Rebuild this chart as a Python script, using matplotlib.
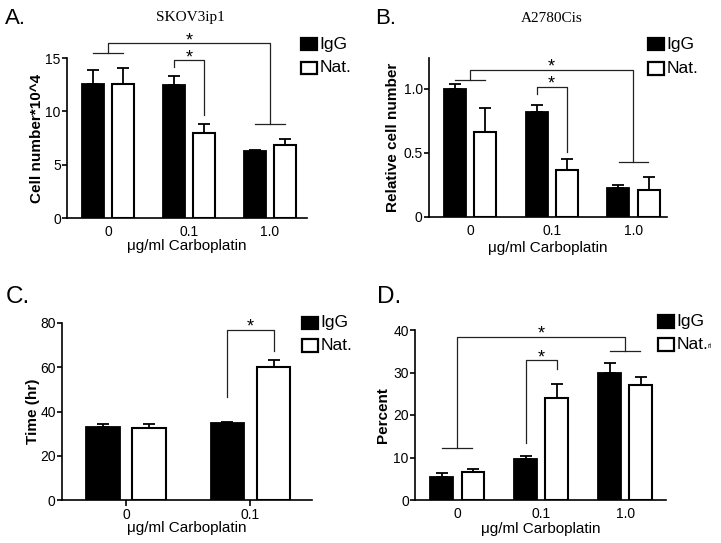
import matplotlib
matplotlib.use("Agg")
import matplotlib.pyplot as plt
from matplotlib.patches import Rectangle
import numpy as np

plt.rcParams["font.family"] = ["Liberation Sans", "DejaVu Sans"]

W, H = 721, 543

# 數據
doses_3 = ["0", "0.1", "1.0"]
doses_2 = ["0", "0.1"]
group_names = ["IgG", "Nat."]

# A. SKOV3ip1
a_igg = [12.6, 12.45, 6.3]
a_igg_err = [1.25, 0.85, 0.08]
a_nat = [12.6, 7.95, 6.8]
a_nat_err = [1.45, 0.85, 0.65]

# B. A2780Cis
b_igg = [1.0, 0.82, 0.23]
b_igg_err = [0.04, 0.05, 0.02]
b_nat = [0.66, 0.37, 0.21]
b_nat_err = [0.19, 0.08, 0.10]

# C.
c_igg = [33.2, 34.7]
c_igg_err = [1.1, 0.5]
c_nat = [32.5, 60.1]
c_nat_err = [1.8, 3.0]

# D.
d_igg = [5.3, 9.6, 29.8]
d_igg_err = [1.1, 0.8, 2.5]
d_nat = [6.6, 23.9, 27.1]
d_nat_err = [0.6, 3.4, 1.9]

# 顯著性標記: (top, left_end, right_end)
a_group_sig = (16.4, 15.47, 8.8)
a_pair_sig = (14.78, 14.16, 9.65)
b_group_sig = (1.15, 1.07, 0.43)
b_pair_sig = (1.016, 0.96, 0.51)
c_pair_sig = (77, 46.5, 67.2)
d_group_sig = (38.4, 12.2, 35.1)
d_pair_sig = (32.9, 13.3, 30.8)

BW = 0.27
OFF = 0.185
TICK_FS = 10
LABEL_FS = 11

fig = plt.figure(figsize=(W / 100, H / 100), dpi=100)


def make_axes(l, t, r, b):
    return fig.add_axes([l / W, 1 - b / H, (r - l) / W, (b - t) / H])


def draw_bars(ax, labels, igg, igg_err, nat, nat_err):
    x = np.arange(len(labels))
    ax.bar(x - OFF, igg, BW, color="black", edgecolor="black", linewidth=1.3, zorder=2)
    ax.bar(x + OFF, nat, BW, color="white", edgecolor="black", linewidth=1.5, zorder=2)
    ax.errorbar(x - OFF, igg, yerr=[np.zeros(len(igg)), igg_err], fmt="none",
                ecolor="black", elinewidth=1.3, capsize=4, capthick=1.3, zorder=3)
    ax.errorbar(x + OFF, nat, yerr=[np.zeros(len(nat)), nat_err], fmt="none",
                ecolor="black", elinewidth=1.3, capsize=4, capthick=1.3, zorder=3)
    ax.set_xticks(x)
    ax.set_xticklabels(labels)
    for s in ["top", "right"]:
        ax.spines[s].set_visible(False)
    for s in ["left", "bottom"]:
        ax.spines[s].set_linewidth(1.2)
    ax.tick_params(axis="y", direction="out", length=3.5, width=1.2,
                   labelsize=TICK_FS, pad=1)


def star(ax, x, y):
    ax.annotate("*", (x, y), xytext=(0, -1.5), textcoords="offset points",
                ha="center", va="baseline", fontsize=13, annotation_clip=False)


def group_bracket(ax, g1, g2, sig):
    top, yl, yr = sig
    kw = dict(color="#222222", lw=0.9, clip_on=False)
    ax.plot([g1, g1, g2, g2], [yl, top, top, yr], **kw)
    ax.plot([g1 - 0.18, g1 + 0.18], [yl, yl], **kw)
    ax.plot([g2 - 0.18, g2 + 0.18], [yr, yr], **kw)
    star(ax, (g1 + g2) / 2, top)


def pair_bracket(ax, g, sig):
    top, yl, yr = sig
    ax.plot([g - OFF, g - OFF, g + OFF, g + OFF], [yl, top, top, yr],
            color="#222222", lw=0.9, clip_on=False)
    star(ax, g, top)


def legend(x, y1, y2, extra=None):
    for y, fc, lab in [(y1, "black", group_names[0]), (y2, "white", group_names[1])]:
        fig.add_artist(Rectangle((x / W, 1 - (y + 12.5) / H), 16 / W, 12.5 / H,
                                 transform=fig.transFigure, facecolor=fc,
                                 edgecolor="black", linewidth=1.6))
        fig.text((x + 18.5) / W, 1 - (y + 6.5) / H, lab, va="center", ha="left", fontsize=12.5)
    if extra:
        fig.text((x + 50) / W, 1 - (y2 + 9) / H, extra, va="center", ha="left", fontsize=5)


def finish(ax, ylab, ylab_x, xlab_y, ylab_fs=LABEL_FS):
    ax.set_ylabel(ylab, fontsize=ylab_fs, fontweight="bold")
    ax.yaxis.set_label_coords(ylab_x, 0.5)
    ax.set_xlabel("μg/ml Carboplatin", fontsize=LABEL_FS)
    ax.xaxis.set_label_coords(0.5, xlab_y)


# A
axA = make_axes(67, 58, 307, 218)
draw_bars(axA, doses_3, a_igg, a_igg_err, a_nat, a_nat_err)
axA.set_ylim(0, 15)
axA.set_yticks([0, 5, 10, 15])
axA.set_xlim(-0.506, 2.457)
axA.tick_params(axis="x", length=0, labelsize=TICK_FS, pad=5)
finish(axA, "Cell number*10^4", -0.094, -0.13)
group_bracket(axA, 0, 2, a_group_sig)
pair_bracket(axA, 1, a_pair_sig)

# B
axB = make_axes(429, 58, 667, 217)
draw_bars(axB, doses_3, b_igg, b_igg_err, b_nat, b_nat_err)
axB.set_ylim(0, 1.24)
axB.set_yticks([0, 0.5, 1.0])
axB.set_yticklabels(["0", "0.5", "1.0"])
axB.set_xlim(-0.50, 2.41)
axB.tick_params(axis="x", length=0, labelsize=TICK_FS, pad=5)
finish(axB, "Relative cell number", -0.12, -0.15)
group_bracket(axB, 0, 2, b_group_sig)
pair_bracket(axB, 1, b_pair_sig)

# C
axC = make_axes(62, 323, 312, 500)
draw_bars(axC, doses_2, c_igg, c_igg_err, c_nat, c_nat_err)
axC.set_ylim(0, 80)
axC.set_yticks([0, 20, 40, 60, 80])
axC.set_xlim(-0.514, 1.494)
axC.tick_params(axis="x", length=4, width=1.2, labelsize=TICK_FS, pad=1.5)
finish(axC, "Time (hr)", -0.09, -0.12)
pair_bracket(axC, 1, c_pair_sig)

# D
axD = make_axes(415, 330, 666, 500)
draw_bars(axD, doses_3, d_igg, d_igg_err, d_nat, d_nat_err)
axD.set_ylim(0, 40)
axD.set_yticks([0, 10, 20, 30, 40])
axD.set_xlim(-0.504, 2.485)
axD.tick_params(axis="x", length=0, labelsize=TICK_FS, pad=5)
finish(axD, "Percent", -0.098, -0.13)
group_bracket(axD, 0, 2, d_group_sig)
pair_bracket(axD, 1, d_pair_sig)

# 圖例
legend(301, 37.5, 61.5)
legend(648, 37.5, 62)
legend(302, 316.5, 339)
legend(658, 315, 338, extra="ri")

# 面板字母和標題
fig.text(5 / W, 1 - 24 / H, "A.", fontsize=16, va="baseline")
fig.text(375 / W, 1 - 24 / H, "B.", fontsize=16, va="baseline")
fig.text(6 / W, 1 - 303 / H, "C.", fontsize=17.5, va="baseline")
fig.text(377 / W, 1 - 303 / H, "D.", fontsize=17.5, va="baseline")
fig.text(190 / W, 1 - 18 / H, "SKOV3ip1", fontsize=11, ha="center", va="center",
         family=["Liberation Serif", "DejaVu Serif"])
fig.text(552 / W, 1 - 18 / H, "A2780Cis", fontsize=11, ha="center", va="center",
         family=["Liberation Serif", "DejaVu Serif"])

fig.savefig("out.png", dpi=100)
